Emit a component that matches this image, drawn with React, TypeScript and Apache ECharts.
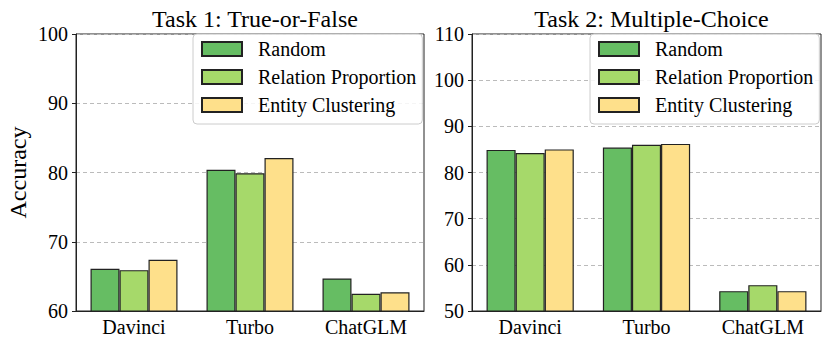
import React, { useEffect, useRef } from "react";
import * as echarts from "echarts";

const categories = ["Davinci", "Turbo", "ChatGLM"];
const seriesNames = ["Random", "Relation Proportion", "Entity Clustering"];
const task1Random = [66.1, 80.4, 64.7];
const task1Relation = [65.9, 79.9, 62.5];
const task1Entity = [67.4, 82.1, 62.7];
const task2Random = [84.9, 85.4, 54.3];
const task2Relation = [84.2, 86.0, 55.6];
const task2Entity = [85.0, 86.2, 54.3];
const colors = ["#66bd63", "#a6d96a", "#fee08b"];
const titles = ["Task 1: True-or-False", "Task 2: Multiple-Choice"];

const FONT = "'Liberation Serif', 'Times New Roman', serif";

export default function App() {
  const ref = useRef<HTMLDivElement>(null);
  useEffect(() => {
    if (!ref.current) return;
    const chart = echarts.init(ref.current, null, { renderer: "svg" });
    const grids = [
      { left: 76, top: 34, width: 348, height: 277 },
      { left: 472, top: 34, width: 349, height: 277 },
    ];
    const yRanges = [
      { min: 60, max: 100 },
      { min: 50, max: 110 },
    ];
    const data = [
      [task1Random, task1Relation, task1Entity],
      [task2Random, task2Relation, task2Entity],
    ];
    const series: any[] = [];
    data.forEach((group, gi) => {
      group.forEach((vals, si) => {
        series.push({
          type: "bar",
          name: seriesNames[si],
          xAxisIndex: gi,
          yAxisIndex: gi,
          data: vals,
          barWidth: "25%",
          barGap: "0%",
          itemStyle: { color: colors[si], borderColor: "#222", borderWidth: 1.2 },
        });
      });
    });
    chart.setOption({
      animation: false,
      textStyle: { fontFamily: FONT },
      title: titles.map((t, i) => ({
        text: t,
        left: grids[i].left + grids[i].width / 2,
        textAlign: "center",
        top: 2,
        textStyle: { fontFamily: FONT, fontSize: 24, fontWeight: "normal", color: "#000" },
      })),
      grid: grids.map((g) => ({ ...g, show: true, borderColor: "#222", borderWidth: 1, backgroundColor: "transparent" })),
      legend: grids.map((g, i) => ({
        data: seriesNames,
        orient: "vertical",
        left: i === 0 ? 193 : 590,
        top: 34,
        itemWidth: 40,
        itemHeight: 14,
        itemGap: 8,
        padding: [5, 6, 9, 8],
        backgroundColor: "rgba(255,255,255,0.85)",
        borderColor: "#cccccc",
        borderWidth: 1,
        borderRadius: 4,
        icon: "rect",
        textStyle: { fontFamily: FONT, fontSize: 20, color: "#000", padding: [0, 0, 0, 11] },
      })),
      xAxis: grids.map((_, i) => ({
        type: "category",
        gridIndex: i,
        data: categories,
        axisLine: { lineStyle: { color: "#222", width: 1 } },
        axisTick: { alignWithLabel: true, length: 4, lineStyle: { color: "#222" } },
        axisLabel: { fontFamily: FONT, fontSize: 20, color: "#000", margin: 6 },
      })),
      yAxis: grids.map((_, i) => ({
        type: "value",
        gridIndex: i,
        min: yRanges[i].min,
        max: yRanges[i].max,
        interval: 10,
        name: i === 0 ? "Accuracy" : "",
        nameLocation: "middle",
        nameGap: 46,
        nameTextStyle: { fontFamily: FONT, fontSize: 24, color: "#000" },
        axisLine: { show: true, lineStyle: { color: "#222", width: 1 } },
        axisTick: { show: true, length: 4, lineStyle: { color: "#222" } },
        axisLabel: { fontFamily: FONT, fontSize: 20, color: "#000", margin: 8 },
        splitLine: { show: true, lineStyle: { type: [4, 3], color: "#bbbbbb", width: 1 } },
      })),
      series,
    });
    return () => chart.dispose();
  }, []);
  return (
    <div
      ref={ref}
      style={{ position: "fixed", left: 0, top: 0, width: 831, height: 349, background: "#fff" }}
    />
  );
}
